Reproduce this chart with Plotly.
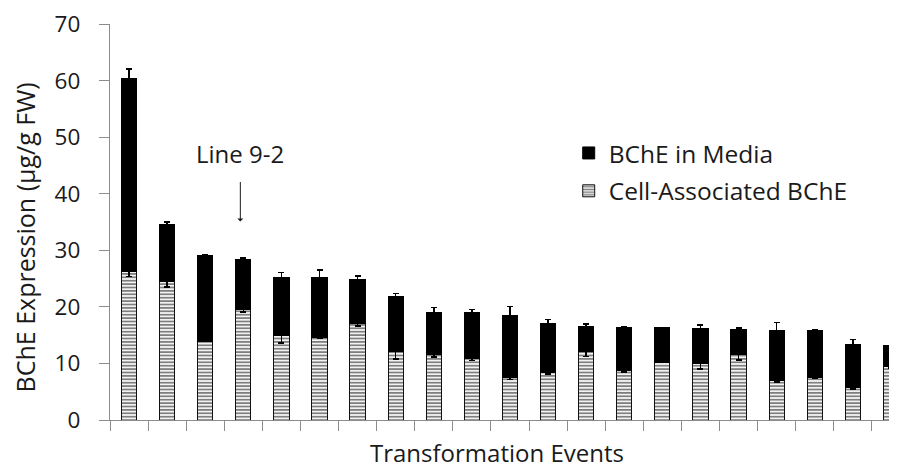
import plotly.graph_objects as go

events = [f"E{i}" for i in range(1, 22)]
cell = [26.2, 24.5, 13.9, 19.6, 15.0, 14.6, 17.05, 12.2, 11.5, 10.8, 7.5,
        8.35, 12.2, 8.8, 10.2, 10.05, 11.5, 7.05, 7.6, 5.7, 9.5]
cell_err = [0.8, 1.0, 0.0, 0.5, 1.4, 0.2, 0.45, 1.4, 0.4, 0.3, 0.3,
            0.2, 1.0, 0.3, 0.0, 1.0, 0.9, 0.3, 0.25, 0.2, 0.3]
media = [34.1, 10.0, 15.2, 8.75, 10.2, 10.6, 7.85, 9.7, 7.5, 8.2, 10.9,
         8.75, 4.4, 7.55, 6.15, 6.15, 4.55, 8.7, 8.15, 7.7, 3.6]
media_err = [1.8, 0.5, 0.2, 0.3, 0.85, 1.3, 0.6, 0.45, 0.9, 0.5, 1.7,
             0.7, 0.4, 0.1, 0.05, 0.6, 0.25, 1.45, 0.15, 0.8, 0.1]
y_ticks = [0, 10, 20, 30, 40, 50, 60, 70]

FONT = "Open Sans"
AXIS_GRAY = "#8c8c8c"
TEXT = "#1a1a1a"

fig = go.Figure()
fig.add_trace(go.Bar(
    x=events, y=cell, name="Cell-Associated BChE", width=0.4,
    marker=dict(color="white", line=dict(color="#111111", width=1),
                pattern=dict(shape="-", fgcolor="black", bgcolor="white",
                             size=3.4, solidity=0.55)),
    error_y=dict(type="data", array=cell_err, color="black", thickness=1.5, width=3),
    legendgroup="a", legendrank=2,
))
fig.add_trace(go.Bar(
    x=events, y=media, name="BChE in Media", width=0.4,
    marker=dict(color="black", line=dict(color="black", width=1)),
    error_y=dict(type="data", array=media_err, color="black", thickness=1.5, width=3),
    legendgroup="b", legendrank=1,
))

fig.update_layout(
    barmode="stack",
    width=897, height=468,
    margin=dict(l=102, r=0, t=16, b=56),
    paper_bgcolor="white", plot_bgcolor="white",
    font=dict(family=FONT, size=22, color=TEXT),
    showlegend=True,
    legend=dict(x=0.577, y=0.731, xanchor="left", yanchor="top",
                traceorder="grouped", tracegroupgap=3,
                font=dict(size=24.5), bgcolor="rgba(0,0,0,0)"),
    xaxis=dict(
        range=[-0.5, 20.37], showticklabels=False, tickson="boundaries",
        ticks="outside", ticklen=10, tickcolor=AXIS_GRAY, tickwidth=1.3,
        showline=True, linecolor=AXIS_GRAY, linewidth=1.3, showgrid=False,
        automargin=False,
    ),
    yaxis=dict(
        range=[0, 70.02], tickvals=y_ticks, ticks="outside", ticklen=10,
        tickcolor=AXIS_GRAY, tickwidth=1.3, showline=True, linecolor=AXIS_GRAY,
        linewidth=1.3, showgrid=False, zeroline=False, tickfont=dict(size=22.5),
        ticklabelstandoff=14, ticklabeloverflow="allow", automargin=False,
    ),
)

# axis titles
fig.add_annotation(x=0.487, y=-0.081, xref="paper", yref="paper",
                   text="Transformation Events", showarrow=False,
                   xanchor="center", yanchor="middle", font=dict(size=24))
fig.add_annotation(x=-0.1069, y=0.461, xref="paper", yref="paper",
                   text="BChE Expression (µg/g FW)", showarrow=False, textangle=-90,
                   xanchor="center", yanchor="middle", font=dict(size=25))

# "Line 9-2" callout
fig.add_annotation(x=3, y=35.1, ax=0, ay=-41, xref="x", yref="y",
                   showarrow=True, arrowhead=1, arrowsize=1, arrowwidth=1,
                   arrowcolor=TEXT, text="", xshift=-3)
fig.add_annotation(x=3, y=47.1, xref="x", yref="y", text="Line 9-2",
                   showarrow=False, font=dict(size=24), xshift=-3)

fig.write_html("out.html")
